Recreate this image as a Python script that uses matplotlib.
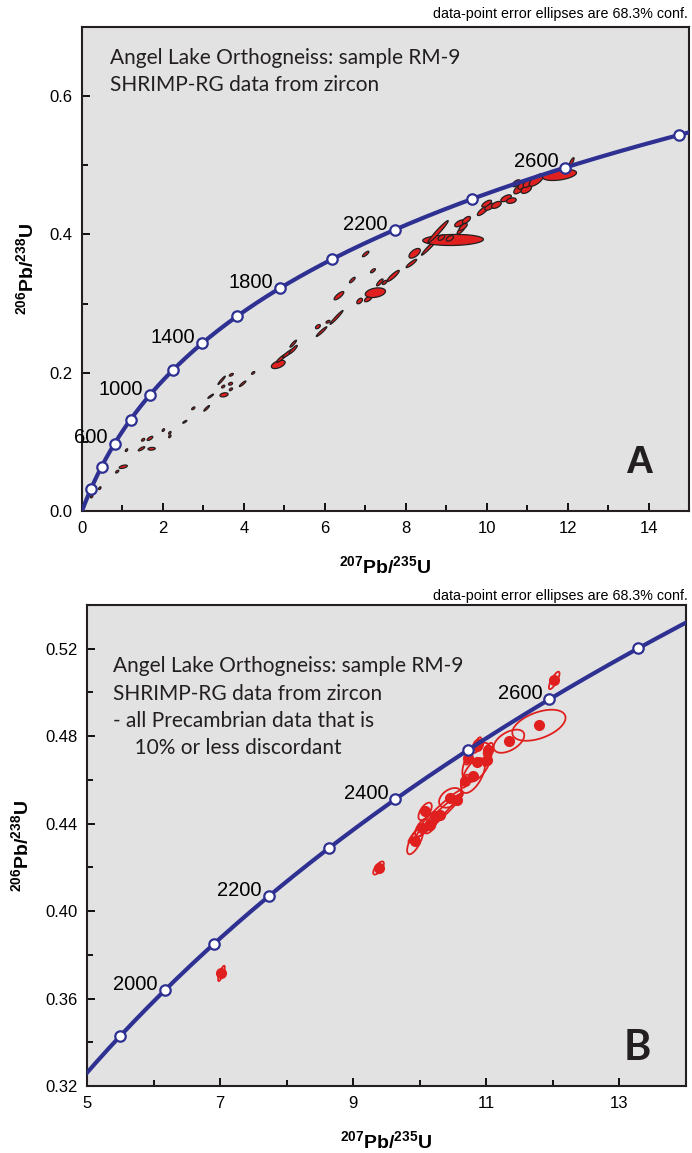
import numpy as np
import matplotlib.pyplot as plt
from matplotlib.patches import Polygon

plt.rcParams['font.family'] = ['Liberation Sans', 'DejaVu Sans']
plt.rcParams['mathtext.fontset'] = 'custom'
plt.rcParams['mathtext.bf'] = 'Liberation Sans:bold'
plt.rcParams['mathtext.rm'] = 'Liberation Sans:bold'
plt.rcParams['mathtext.default'] = 'bf'

# decay constants (per Ma)
L238, L235 = 1.55125e-4, 9.8485e-4

# --- panel A: all data ---
a_ages = [200, 400, 600, 800, 1000, 1200, 1400, 1600, 1800, 2000, 2200, 2400, 2600, 2800]
a_age_labels = [600, 1000, 1400, 1800, 2200, 2600]
a_x = [0.24, 0.44, 0.87, 1.02, 1.10, 1.47, 1.72, 1.68, 1.51, 2.01, 2.17, 2.17, 2.54, 2.75, 3.08,
       3.18, 3.45, 3.69, 3.49, 3.67, 3.51, 3.68, 3.97, 4.23, 4.85, 4.93, 5.09, 5.22, 5.22, 5.83,
       5.92, 6.08, 6.29, 6.35, 6.68, 6.86, 7.07, 7.25, 7.01, 7.19, 7.36, 7.48, 7.69, 8.14, 8.22,
       8.59, 9.17, 8.80, 8.88, 9.09, 9.33, 9.37, 9.50, 9.42, 9.91, 10.07, 10.24, 10.48, 10.61,
       10.00, 10.82, 10.90, 10.98, 10.73, 11.02, 11.23, 11.80, 12.10]
a_y = [0.021, 0.033, 0.057, 0.064, 0.088, 0.090, 0.090, 0.105, 0.103, 0.117, 0.108, 0.113, 0.129,
       0.1485, 0.1485, 0.166, 0.189, 0.197, 0.180, 0.184, 0.168, 0.176, 0.184, 0.1997, 0.212, 0.221,
       0.228, 0.2335, 0.242, 0.2666, 0.2594, 0.2737, 0.280, 0.3114, 0.334, 0.3037, 0.3066, 0.3157,
       0.3717, 0.3475, 0.3306, 0.3306, 0.340, 0.358, 0.3727, 0.382, 0.392, 0.404, 0.3955, 0.3943,
       0.416, 0.4066, 0.421, 0.411, 0.4343, 0.440, 0.4427, 0.4523, 0.4489, 0.4445, 0.4667, 0.4715,
       0.4653, 0.474, 0.474, 0.4787, 0.486, 0.505]
a_sx = [0.03, 0.03, 0.04, 0.10, 0.03, 0.08, 0.09, 0.07, 0.04, 0.03, 0.03, 0.03, 0.05, 0.04, 0.07,
        0.07, 0.09, 0.05, 0.04, 0.05, 0.10, 0.04, 0.08, 0.04, 0.17, 0.12, 0.13, 0.10, 0.08, 0.06,
        0.13, 0.05, 0.16, 0.12, 0.07, 0.07, 0.09, 0.25, 0.08, 0.06, 0.08, 0.06, 0.15, 0.13, 0.14,
        0.20, 0.75, 0.25, 0.08, 0.09, 0.12, 0.10, 0.10, 0.10, 0.14, 0.12, 0.12, 0.13, 0.12, 0.12,
        0.15, 0.13, 0.13, 0.10, 0.12, 0.18, 0.42, 0.06]
a_sy = [0.002, 0.002, 0.002, 0.0025, 0.002, 0.003, 0.002, 0.003, 0.002, 0.002, 0.002, 0.002, 0.002,
        0.002, 0.004, 0.003, 0.006, 0.002, 0.002, 0.002, 0.003, 0.002, 0.004, 0.002, 0.006, 0.006,
        0.006, 0.006, 0.005, 0.003, 0.007, 0.002, 0.010, 0.006, 0.004, 0.004, 0.004, 0.007, 0.004,
        0.003, 0.005, 0.003, 0.008, 0.006, 0.007, 0.012, 0.008, 0.016, 0.004, 0.004, 0.005, 0.006,
        0.005, 0.005, 0.007, 0.005, 0.005, 0.005, 0.004, 0.005, 0.008, 0.006, 0.006, 0.005, 0.006,
        0.009, 0.008, 0.006]
a_rho = [0.5, 0.5, 0.6, 0.5, 0.5, 0.8, 0.2, 0.7, 0.5, 0.5, 0.5, 0.5, 0.8, 0.6, 0.9, 0.9, 0.95, 0.6,
         0.5, 0.3, 0.3, 0.5, 0.9, 0.6, 0.5, 0.9, 0.9, 0.9, 0.9, 0.5, 0.95, 0.5, 0.97, 0.8, 0.8, 0.5,
         0.6, 0.3, 0.8, 0.7, 0.8, 0.6, 0.9, 0.9, 0.6, 0.97, 0.1, 0.97, 0.5, 0.5, 0.6, 0.8, 0.6, 0.7,
         0.8, 0.6, 0.5, 0.6, 0.3, 0.7, 0.7, 0.6, 0.5, 0.6, 0.6, 0.7, 0.4, 0.8]

# --- panel B: Precambrian, <=10% discordant ---
b_ages = [1900, 2000, 2100, 2200, 2300, 2400, 2500, 2600, 2700]
b_age_labels = [2000, 2200, 2400, 2600]
b_x = [7.02, 9.38, 12.02, 11.79, 11.34, 10.86, 10.80, 10.86, 11.03, 10.73, 11.01, 10.68, 10.88,
       10.46, 10.56, 10.08, 10.03, 10.16, 9.93, 10.23, 10.30]
b_y = [0.3715, 0.4197, 0.5055, 0.485, 0.4777, 0.468, 0.462, 0.4754, 0.4739, 0.470, 0.4693, 0.4594,
       0.4765, 0.4518, 0.451, 0.4456, 0.438, 0.4395, 0.432, 0.4433, 0.444]
b_sx = [0.05, 0.08, 0.08, 0.40, 0.23, 0.22, 0.18, 0.06, 0.07, 0.06, 0.06, 0.06, 0.05,
        0.17, 0.05, 0.10, 0.10, 0.10, 0.12, 0.40, 0.35]
b_sy = [0.0035, 0.003, 0.004, 0.0071, 0.0053, 0.009, 0.008, 0.003, 0.003, 0.003, 0.003, 0.003,
        0.003, 0.0045, 0.002, 0.004, 0.004, 0.004, 0.006, 0.012, 0.010]
b_rho = [0.8, 0.7, 0.8, 0.48, 0.51, 0.5, 0.6, 0.6, 0.6, 0.5, 0.5, 0.5, 0.5,
         0.4, 0.5, 0.6, 0.6, 0.6, 0.7, 0.97, 0.97]

RED = '#e0201f'
NAVY = '#2e3192'
BG = '#e2e2e2'
INK = '#231f20'
NOTE = "data-point error ellipses are 68.3% conf."


def ellipse(ax, x, y, sx, sy, rho, **kw):
    t = np.linspace(0, 2 * np.pi, 80)
    ex = x + sx * np.cos(t)
    ey = y + sy * (rho * np.cos(t) + np.sqrt(1 - rho ** 2) * np.sin(t))
    ax.add_patch(Polygon(np.column_stack([ex, ey]), closed=True, **kw))


def concordia(ax, ages, labels):
    t = np.linspace(0, 3000, 600)
    ax.plot(np.exp(L235 * t) - 1, np.exp(L238 * t) - 1, color=NAVY, lw=3, zorder=3)
    ages = np.array(ages, dtype=float)
    cx, cy = np.exp(L235 * ages) - 1, np.exp(L238 * ages) - 1
    ax.plot(cx, cy, 'o', ms=7.5, mfc='white', mec=NAVY, mew=1.6, zorder=4)
    for a, x, y in zip(ages, cx, cy):
        if a in labels:
            ax.annotate(f"{int(a)}", (x, y), xytext=(-5, 4), textcoords='offset points',
                        ha='right', va='center', fontsize=14.5, annotation_clip=False, zorder=5)


def style(ax):
    ax.set_facecolor(BG)
    for s in ax.spines.values():
        s.set_linewidth(1.5)
        s.set_color(INK)
    ax.tick_params(which='major', direction='in', length=6, width=1.3, labelsize=12, pad=7,
                   right=False, top=False)
    ax.tick_params(which='minor', direction='in', length=4, width=1.3, right=False, top=False)
    ax.set_xlabel(r'$^{207}$Pb/$^{235}$U', fontsize=14, fontweight='bold', labelpad=14)
    ax.set_ylabel(r'$^{206}$Pb/$^{238}$U', fontsize=14, fontweight='bold', labelpad=9)


fig = plt.figure(figsize=(6.92, 11.53), dpi=100)

# panel A
ax1 = fig.add_axes([82 / 692, 1 - 511 / 1153, 607 / 692, 484 / 1153])
style(ax1)
ax1.set_xlim(0, 15)
ax1.set_ylim(0, 0.7)
ax1.set_xticks(np.arange(0, 15, 2))
ax1.set_xticks(np.arange(1, 15, 2), minor=True)
ax1.set_yticks([0, 0.2, 0.4, 0.6])
ax1.set_yticklabels(['0.0', '0.2', '0.4', '0.6'])
ax1.set_yticks([0.1, 0.3, 0.5], minor=True)
concordia(ax1, a_ages, a_age_labels)
for x, y, sx, sy, r in zip(a_x, a_y, a_sx, a_sy, a_rho):
    ellipse(ax1, x, y, sx, sy, r, fc=RED, ec=INK, lw=0.9, zorder=2)
ax1.text(0.046, 0.957, "Angel Lake Orthogneiss: sample RM-9\nSHRIMP-RG data from zircon",
         transform=ax1.transAxes, ha='left', va='top', fontsize=15, family='Lato',
         color=INK, linespacing=1.45)
ax1.text(0.918, 0.10, "A", transform=ax1.transAxes, ha='center', va='center',
         fontsize=28, fontweight='bold', color=INK)
fig.text(688 / 692, 1 - 14 / 1153, NOTE, ha='right', va='center', fontsize=10.3,
         family=['Liberation Sans Narrow', 'Liberation Sans'])

# panel B
ax2 = fig.add_axes([87 / 692, 1 - 1086 / 1153, 599 / 692, 481 / 1153])
style(ax2)
ax2.set_xlim(5, 14)
ax2.set_ylim(0.32, 0.54)
ax2.set_xticks([5, 7, 9, 11, 13])
ax2.set_xticks([6, 8, 10, 12], minor=True)
ax2.set_yticks(np.arange(0.32, 0.53, 0.04))
ax2.set_yticklabels(['0.32', '0.36', '0.40', '0.44', '0.48', '0.52'])
ax2.set_yticks(np.arange(0.34, 0.54, 0.04), minor=True)
concordia(ax2, b_ages, b_age_labels)
for x, y, sx, sy, r in zip(b_x, b_y, b_sx, b_sy, b_rho):
    ellipse(ax2, x, y, sx, sy, r, fc='none', ec=RED, lw=1.3, zorder=2)
ax2.plot(b_x, b_y, 'o', ms=7, color=RED, zorder=2)
ax2.text(0.043, 0.893, "Angel Lake Orthogneiss: sample RM-9\nSHRIMP-RG data from zircon\n"
         "- all Precambrian data that is\n    10% or less discordant",
         transform=ax2.transAxes, ha='left', va='top', fontsize=15, family='Lato',
         color=INK, linespacing=1.45)
ax2.text(0.918, 0.079, "B", transform=ax2.transAxes, ha='center', va='center',
         fontsize=30, fontweight='bold', family='Lato', color=INK)
fig.text(688 / 692, 1 - 596 / 1153, NOTE, ha='right', va='center', fontsize=10.3,
         family=['Liberation Sans Narrow', 'Liberation Sans'])

fig.savefig("out.png", dpi=100)
